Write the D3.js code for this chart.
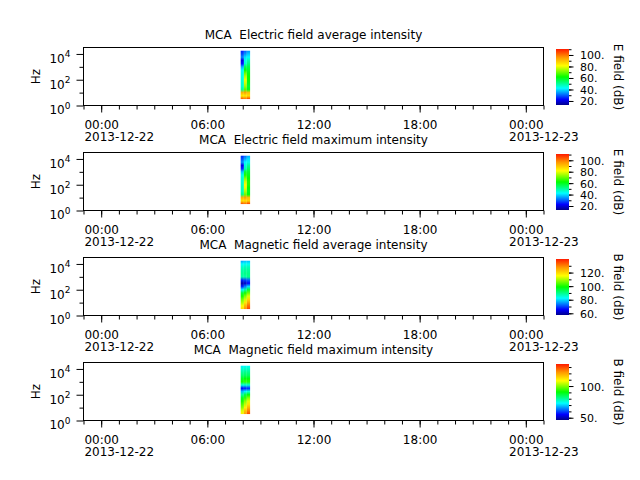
<!DOCTYPE html>
<html>
<head>
<meta charset="utf-8">
<script src="https://cdn.jsdelivr.net/npm/d3@7"></script>
<style>
  body { margin: 0; background: #fff; }
  text { font-family: "DejaVu Sans", sans-serif; fill: #000; }
</style>
</head>
<body>
<svg id="chart" width="640" height="480"></svg>
<script>
// ---- data ----
const panelTitles = [
  'MCA  Electric field average intensity',
  'MCA  Electric field maximum intensity',
  'MCA  Magnetic field average intensity',
  'MCA  Magnetic field maximum intensity'
];
const colorbarLabels = ['E field (dB)', 'E field (dB)', 'B field (dB)', 'B field (dB)'];
const colorRanges = [[13, 110.4], [13, 111], [57.5, 140], [46.4, 134.8]];
const colorTicks = [[20, 40, 60, 80, 100], [20, 40, 60, 80, 100], [60, 80, 100, 120], [50, 100]];

// time axis (UTC)
const timeStart = '2013-12-21T23:00:00Z';
const timeEnd = '2013-12-23T01:00:00Z';
// spectrogram column edges
const sweepEdges = ['2013-12-22T07:53:00Z', '2013-12-22T08:04:00Z', '2013-12-22T08:14:00Z', '2013-12-22T08:25:00Z'];
// MCA channel centres (Hz)
const freqChannels = [3.16, 5.62, 10, 17.8, 31.6, 56.2, 100, 178, 316, 562, 1000, 1780, 3160, 5620, 10000, 17800];

// dB values, one list per time column, low -> high frequency
const eAvg = [
  [104, 84, 92, 50, 46, 46, 45, 44, 44, 42, 36, 24, 20, 33, 28, 25],
  [100, 84, 94, 68, 74, 78, 80, 76, 70, 62, 56, 46, 44, 40, 34, 30],
  [106, 86, 90, 60, 58, 60, 62, 62, 60, 58, 56, 52, 48, 42, 38, 34]
];
const eMax = [
  [105, 86, 93, 52, 48, 48, 47, 46, 46, 44, 38, 26, 21, 34, 29, 26],
  [101, 86, 95, 70, 76, 80, 82, 78, 72, 64, 58, 48, 45, 42, 36, 31],
  [107, 88, 91, 62, 60, 62, 64, 64, 62, 60, 58, 54, 50, 44, 40, 36]
];
const bAvg = [
  [120, 116, 110, 106, 100, 95, 82, 68, 60, 68, 88, 89, 88, 86, 82, 76],
  [128, 124, 118, 112, 107, 100, 88, 74, 62, 70, 88, 90, 89, 87, 83, 78],
  [136, 132, 126, 120, 113, 106, 95, 80, 66, 72, 90, 90, 89, 87, 83, 78]
];
const bMax = [
  [110, 106, 100, 96, 92, 88, 80, 68, 55, 75, 92, 88, 83, 80, 76, 72],
  [120, 116, 110, 104, 100, 94, 86, 72, 57, 76, 94, 90, 84, 81, 77, 73],
  [130, 124, 118, 112, 106, 100, 90, 76, 58, 76, 93, 90, 84, 81, 77, 73]
];
const spectra = [eAvg, eMax, bAvg, bMax];

// colour map (rainbow)
const cmapStops = [0, 0.1, 0.3, 0.5, 0.7, 0.85, 1];
const cmapColors = ['#00008c', '#0000ff', '#00ffff', '#00ff00', '#ffff00', '#ff9900', '#ff1a00'];
const cmap = d3.scaleLinear().domain(cmapStops).range(cmapColors).clamp(true);

// ---- layout ----
const left = 83.5, right = 543.5;
const firstTop = 47.5, plotH = 58, step = 105;
const cbX = 556, cbW = 13;

const svg = d3.select('#chart');
const defs = svg.append('defs');

// colorbar gradient (shared, same colour map for all)
const cbGrad = defs.append('linearGradient').attr('id', 'cbgrad')
  .attr('x1', 0).attr('y1', 1).attr('x2', 0).attr('y2', 0);
cbGrad.selectAll('stop').data(d3.range(0, 1.0001, 0.05)).join('stop')
  .attr('offset', d => d).attr('stop-color', d => cmap(d));

const x = d3.scaleUtc().domain([new Date(timeStart), new Date(timeEnd)]).range([left, right]);
const fmtHM = d3.utcFormat('%H:%M');
const fmtDate = d3.utcFormat('%Y-%m-%d');

panelTitles.forEach((title, i) => {
  const top = firstTop + i * step;
  const bottom = top + plotH;
  const [lo, hi] = colorRanges[i];
  const y = d3.scaleLog().domain([1, Math.pow(10, 4.5)]).range([bottom, top]);
  const g = svg.append('g');

  // spectrogram: one column per sweep, smooth shading between channels
  const y0 = y(freqChannels[0]), y1 = y(freqChannels[freqChannels.length - 1]);
  spectra[i].forEach((col, c) => {
    const id = `sp${i}_${c}`;
    const grad = defs.append('linearGradient').attr('id', id)
      .attr('gradientUnits', 'userSpaceOnUse')
      .attr('x1', 0).attr('x2', 0).attr('y1', y0).attr('y2', y1);
    grad.selectAll('stop').data(col).join('stop')
      .attr('offset', (d, k) => (y(freqChannels[k]) - y0) / (y1 - y0))
      .attr('stop-color', d => cmap((d - lo) / (hi - lo)));
    const xa = x(new Date(sweepEdges[c])), xb = x(new Date(sweepEdges[c + 1]));
    g.append('rect')
      .attr('x', xa).attr('width', xb - xa)
      .attr('y', y1).attr('height', y0 - y1)
      .attr('fill', `url(#${id})`);
  });

  // frame
  g.append('rect')
    .attr('x', left).attr('y', top).attr('width', right - left).attr('height', plotH)
    .attr('fill', 'none').attr('stroke', '#000').attr('stroke-width', 1);

  // x axis: hourly minor ticks, 6-hour major ticks
  const gxm = g.append('g').attr('transform', `translate(0,${bottom})`)
    .call(d3.axisBottom(x).ticks(d3.utcHour.every(1)).tickSize(4).tickSizeOuter(0).tickFormat(''));
  gxm.select('.domain').remove();
  const gx = g.append('g').attr('transform', `translate(0,${bottom})`)
    .call(d3.axisBottom(x).ticks(d3.utcHour.every(6)).tickSize(7).tickSizeOuter(0).tickFormat(fmtHM));
  gx.select('.domain').remove();
  gx.selectAll('.tick text').each(function (d) {
    const t = d3.select(this).attr('y', 23.5).attr('dy', null)
      .attr('font-size', 12).attr('font-family', 'DejaVu Sans');
    if (d.getUTCHours() === 0) {
      const w = this.getComputedTextLength();
      t.attr('text-anchor', 'start').attr('x', -w / 2);
      t.append('tspan').attr('x', -w / 2).attr('y', 35.5).text(fmtDate(d));
    }
  });

  // y axis: log, decades
  const gym = g.append('g').attr('transform', `translate(${left},0)`)
    .call(d3.axisLeft(y).tickValues([10, 1000]).tickSize(4).tickSizeOuter(0).tickFormat(''));
  gym.select('.domain').remove();
  const gy = g.append('g').attr('transform', `translate(${left},0)`)
    .call(d3.axisLeft(y).tickValues([1, 100, 10000]).tickSize(7).tickSizeOuter(0).tickFormat(''));
  gy.select('.domain').remove();
  gy.selectAll('.tick text').each(function (d) {
    const t = d3.select(this).attr('x', -13).attr('y', 8.3).attr('dy', null)
      .attr('text-anchor', 'end').attr('font-size', 12).attr('font-family', 'DejaVu Sans').text('10');
    t.append('tspan').attr('dy', -5.5).attr('font-size', 9).text(Math.round(Math.log10(d)));
  });
  g.append('text')
    .attr('transform', `translate(36,${(top + bottom) / 2}) rotate(-90)`)
    .attr('text-anchor', 'middle').attr('dy', '0.35em').attr('font-size', 12)
    .text('Hz');

  // title
  g.append('text')
    .attr('x', (left + right) / 2).attr('y', top - 9)
    .attr('text-anchor', 'middle').attr('font-size', 12)
    .style('white-space', 'pre')
    .text(title);

  // colorbar
  const cbTop = top + 1.5, cbBottom = bottom - 0.5;
  g.append('rect')
    .attr('x', cbX).attr('y', cbTop).attr('width', cbW).attr('height', cbBottom - cbTop)
    .attr('fill', 'url(#cbgrad)');
  const cbScale = d3.scaleLinear().domain([lo, hi]).range([cbBottom, cbTop]);
  const minor = d3.range(Math.ceil(lo / 10) * 10, hi, 10);
  const gcm = g.append('g').attr('transform', `translate(${cbX + cbW},0)`)
    .call(d3.axisRight(cbScale).tickValues(minor).tickSize(2.5).tickSizeOuter(0).tickFormat(''));
  gcm.select('.domain').remove();
  const gc = g.append('g').attr('transform', `translate(${cbX + cbW},0)`)
    .call(d3.axisRight(cbScale).tickValues(colorTicks[i]).tickSize(4.5).tickSizeOuter(0)
      .tickFormat(d => d + '.'));
  gc.select('.domain').remove();
  gc.selectAll('.tick text').attr('x', 11).attr('dy', '0.36em')
    .attr('font-size', 11).attr('font-family', 'DejaVu Sans');
  g.append('text')
    .attr('transform', `translate(618,${(cbTop + cbBottom) / 2}) rotate(90)`)
    .attr('text-anchor', 'middle').attr('dy', '0.35em').attr('font-size', 12)
    .text(colorbarLabels[i]);
});
</script>
</body>
</html>
